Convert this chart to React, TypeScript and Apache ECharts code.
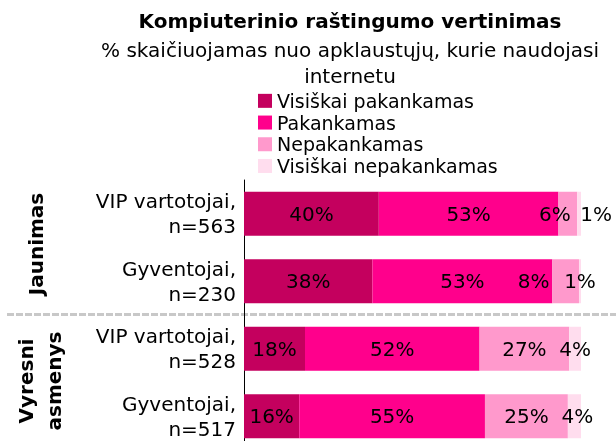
import React, { useEffect, useRef } from "react";
import * as echarts from "echarts";

const categories = ["VIP vartotojai,\nn=563", "Gyventojai,\nn=230", "VIP vartotojai,\nn=528", "Gyventojai,\nn=517"];
const seriesNames = ["Visiškai pakankamas", "Pakankamas", "Nepakankamas", "Visiškai nepakankamas"];
const visiskaiPakankamas = [40.0, 38.1, 18.1, 16.4];
const pakankamas = [53.3, 53.4, 51.8, 55.1];
const nepakankamas = [5.6, 7.9, 26.6, 24.6];
const visiskaiNepakankamas = [1.1, 0.6, 3.5, 3.9];
const groupLabels = ["Jaunimas", "Vyresni\nasmenys"];
const titleText = "Kompiuterinio raštingumo vertinimas";
const subtitleText = "% skaičiuojamas nuo apklaustųjų, kurie naudojasi\ninternetu";

const colors = ["#C4005E", "#FF008C", "#FF99CC", "#FFDDEE"];
// label nudges [seriesIndex][categoryIndex] -> x offset in px
const labelNudge: Record<string, number> = { "2-0": -13, "3-0": 17, "2-1": -32, "3-3": 3 };

const FONT = "DejaVu Sans";

export default function App() {
  const ref = useRef<HTMLDivElement>(null);
  useEffect(() => {
    if (!ref.current) return;
    const chart = echarts.init(ref.current, undefined, { renderer: "svg" });
    const allData = [visiskaiPakankamas, pakankamas, nepakankamas, visiskaiNepakankamas];
    const series = allData.map((vals, si) => ({
      name: seriesNames[si],
      type: "bar",
      stack: "total",
      barWidth: 44,
      itemStyle: { color: colors[si] },
      label: {
        show: true,
        position: "inside",
        color: "#000",
        fontFamily: FONT,
        fontSize: 20,
        formatter: (p: any) => Math.round(p.value) + "%",
      },
      data: vals.map((v, ci) => {
        const off = labelNudge[`${si}-${ci}`];
        return off ? { value: v, label: { offset: [off, 0] } } : v;
      }),
    }));
    chart.setOption({
      animation: false,
      textStyle: { fontFamily: FONT },
      legend: {
        orient: "vertical",
        left: 258,
        top: 90,
        padding: 0,
        itemGap: 0,
        itemWidth: 14,
        itemHeight: 14,
        icon: "rect",
        data: seriesNames,
        textStyle: { fontFamily: FONT, fontSize: 19, color: "#000", lineHeight: 21.7, padding: [0, 0, 0, 0] },
        selectedMode: false,
      },
      grid: { left: 244, right: 35, top: 180, height: 270, containLabel: false },
      xAxis: { type: "value", min: 0, max: 100, show: false },
      yAxis: {
        type: "category",
        inverse: true,
        data: categories,
        axisTick: { show: false },
        axisLine: { show: true, lineStyle: { color: "#000", width: 1 } },
        axisLabel: {
          margin: 8,
          color: "#000",
          fontFamily: FONT,
          fontSize: 20,
          lineHeight: 25,
          align: "right",
        },
      },
      series,
      graphic: [
        {
          type: "text",
          x: 350,
          y: 21,
          style: {
            text: titleText,
            fontFamily: FONT,
            fontWeight: "bold",
            fontSize: 20,
            fill: "#000",
            textAlign: "center",
            textVerticalAlign: "middle",
          },
        },
        {
          type: "text",
          x: 350,
          y: 37,
          style: {
            text: subtitleText,
            fontFamily: FONT,
            fontSize: 20,
            lineHeight: 26,
            fill: "#000",
            textAlign: "center",
            textVerticalAlign: "top",
          },
        },
        {
          type: "text",
          x: 36,
          y: 244,
          rotation: Math.PI / 2,
          style: {
            text: groupLabels[0],
            fontFamily: FONT,
            fontWeight: "bold",
            fontSize: 20,
            fill: "#000",
            textAlign: "center",
            textVerticalAlign: "middle",
          },
        },
        {
          type: "text",
          x: 40,
          y: 381,
          rotation: Math.PI / 2,
          style: {
            text: groupLabels[1],
            fontFamily: FONT,
            fontWeight: "bold",
            fontSize: 20,
            lineHeight: 28.5,
            fill: "#000",
            textAlign: "center",
            textVerticalAlign: "middle",
          },
        },
        {
          type: "line",
          shape: { x1: 7, y1: 314.5, x2: 616, y2: 314.5 },
          style: { stroke: "#C8C8C8", lineWidth: 3, lineDash: [7, 2] },
        },
      ],
    });
    return () => chart.dispose();
  }, []);
  return <div ref={ref} style={{ position: "fixed", left: 0, top: 0, width: 616, height: 456 }} />;
}
